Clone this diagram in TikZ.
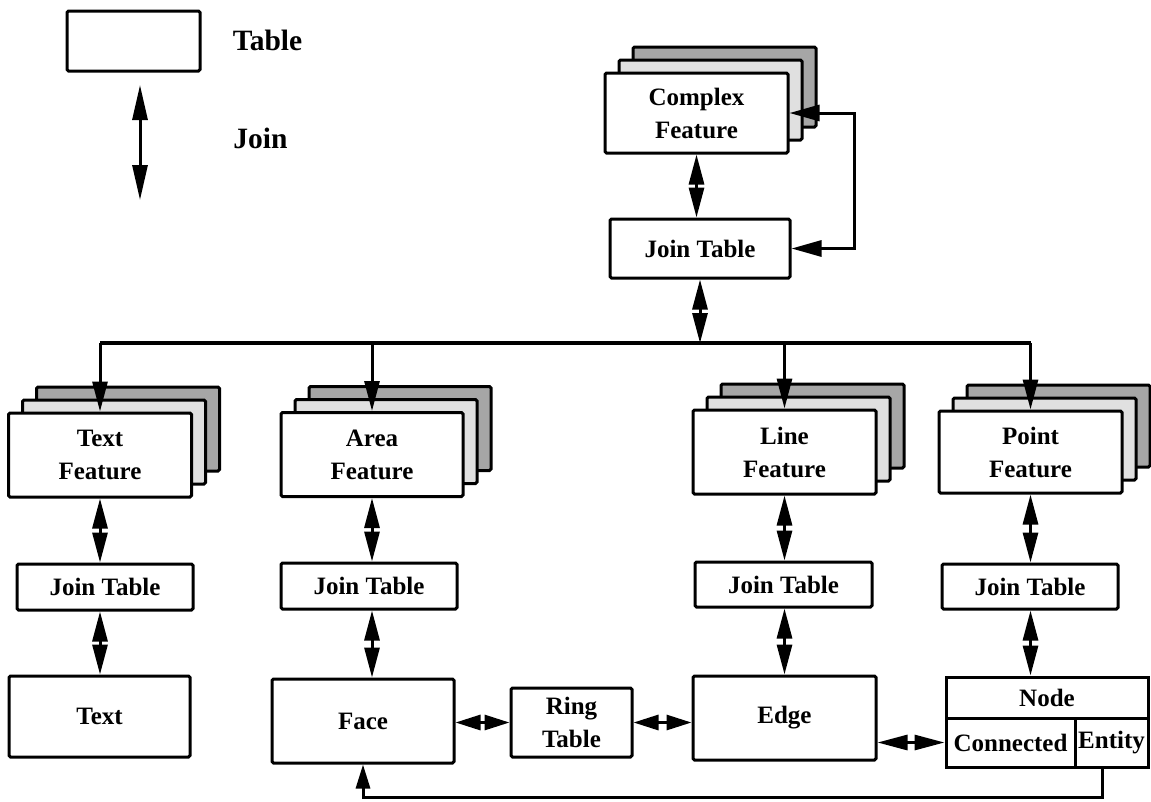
\documentclass[tikz,border=0pt]{standalone}
\usepackage{fontspec}
\setmainfont{Liberation Serif}
\usepackage{tikz}
\usetikzlibrary{arrows.meta}
\usetikzlibrary{shadows}

\tikzset{
  tbl/.style={draw, line width=3pt, fill=white, rounded corners=1.5pt, inner sep=0pt,
    font=\bfseries\fontsize{25}{33}\selectfont, align=center},
  feat/.style={tbl, minimum width=183pt, minimum height=84pt,
    copy shadow={shadow xshift=28pt, shadow yshift=26pt, fill=black!35, draw=black, line width=3pt},
    copy shadow={shadow xshift=14pt, shadow yshift=13pt, fill=black!12, draw=black, line width=3pt}},
  jtbl/.style={tbl, minimum width=176pt, minimum height=46pt},
  lgd/.style={font=\bfseries\fontsize{29.5}{33}\selectfont, inner sep=0pt},
  joinarr/.style={line width=3pt, {Triangle[length=#1,width=15pt]}-{Triangle[length=#1,width=15pt]}},
  joinarr/.default=30pt,
  lnk/.style={line width=3pt, -{Triangle[length=30pt,width=15pt]}},
  lnkboth/.style={line width=3pt, {Triangle[length=30pt,width=16pt]}-{Triangle[length=30pt,width=16pt]}}
}

\begin{document}
\begin{tikzpicture}[x=1pt,y=-1pt]
  \useasboundingbox (0,0) rectangle (1151,801);

  % legend
  \node[tbl, minimum width=133pt, minimum height=60pt] (legtbl) at (133.5,41) {};
  \node[lgd] (legtbltxt) at (267.5,40) {Table};
  \coordinate (legjtop) at (140,85);
  \coordinate (legjbot) at (140,200);
  \draw[joinarr=35pt] (legjtop) -- (legjbot);
  \node[lgd] (legjointxt) at (260.5,138) {Join};

  % features
  \node[feat, minimum height=80pt] (cf) at (696.5,113) {Complex\\Feature};
  \node[feat] (tf) at (100,455) {Text\\Feature};
  \node[feat, minimum width=182pt] (af) at (372,454.5) {Area\\Feature};
  \node[feat] (lf) at (784.5,452) {Line\\Feature};
  \node[feat, minimum height=82pt] (pf) at (1030.5,452) {Point\\Feature};

  % join tables
  \node[jtbl, minimum width=180pt, minimum height=59pt] (cj) at (700,248.5) {Join Table};
  \node[jtbl] (tj) at (105,587) {Join Table};
  \node[jtbl] (aj) at (369,586) {Join Table};
  \node[jtbl, minimum width=177pt, minimum height=45pt] (lj) at (783.5,584.5) {Join Table};
  \node[jtbl, minimum height=45pt] (pj) at (1030,586.5) {Join Table};

  % primitives
  \node[tbl, minimum width=181pt, minimum height=81pt] (txt) at (99.5,716.5) {Text};
  \node[tbl, minimum width=182pt, minimum height=84pt] (face) at (363,721) {Face};
  \node[tbl, minimum width=121pt, minimum height=69pt] (ring) at (571.5,722.5) {Ring\\Table};
  \node[tbl, minimum width=183pt, minimum height=84pt] (edge) at (784.5,718) {Edge};
  \node[tbl, minimum width=202pt, minimum height=41pt, rounded corners=0pt] (nd) at (1047,697.5) {Node};
  \node[tbl, minimum width=129pt, minimum height=49pt, rounded corners=0pt] (ndc) at (1010.5,742.5) {Connected};
  \node[tbl, minimum width=73pt, minimum height=49pt, rounded corners=0pt] (nde) at (1111.5,742.5) {Entity};

  % complex feature
  \coordinate (bus) at (700,343);
  \draw[joinarr] (cf.south) -- (cf.south |- cj.north);
  \draw[joinarr] (cj.south) -- (cj.south |- bus);
  \draw[lnkboth] (cj.east) -- ++(63,0) |- (cf.east);

  % bus to features
  \draw[line width=4pt] (tf.north |- bus) -- (pf.north |- bus);
  \foreach \f in {tf,af,lf,pf}
    \draw[lnk] (\f.north |- bus) -- (\f.north);

  % features to join tables to primitives
  \draw[joinarr] (tf.south) -- (tf.south |- tj.north);
  \draw[joinarr] (af.south) -- (af.south |- aj.north);
  \draw[joinarr] (lf.south) -- (lf.south |- lj.north);
  \draw[joinarr] (pf.south) -- (pf.south |- pj.north);
  \draw[joinarr] (tf.south |- tj.south) -- (tf.south |- txt.north);
  \draw[joinarr] (af.south |- aj.south) -- (af.south |- face.north);
  \draw[joinarr] (lf.south |- lj.south) -- (lf.south |- edge.north);
  \draw[joinarr] (pf.south |- pj.south) -- (pf.south |- nd.north);

  % topology
  \draw[joinarr=25pt] (ring.west -| face.east) -- (ring.west);
  \draw[joinarr=25pt] (ring.east) -- (ring.east -| edge.west);
  \draw[joinarr] (ndc.west -| edge.east) -- (ndc.west);
  \coordinate (loopbot) at (1102,797);
  \draw[line width=3pt, -{Triangle[length=24pt,width=14pt]}] (nde.south -| loopbot) -- (loopbot) -| (face.south);
\end{tikzpicture}
\end{document}
